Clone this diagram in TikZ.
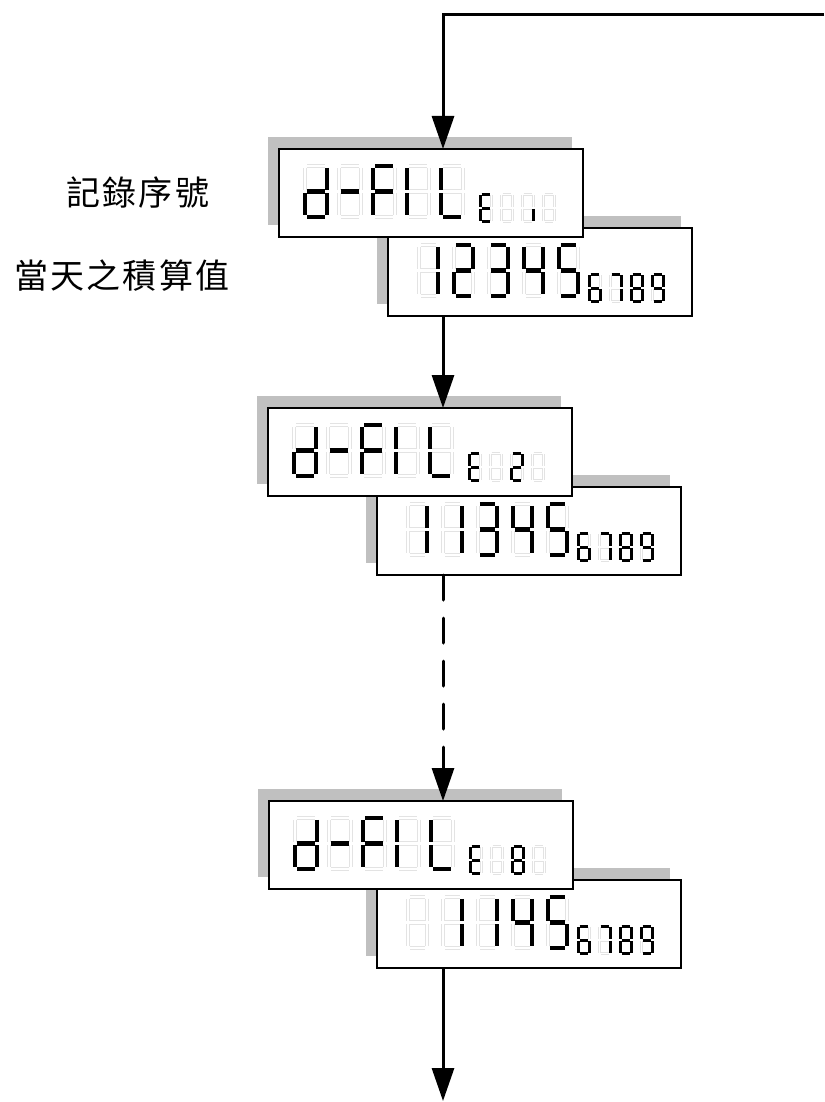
\documentclass[tikz,border=0pt]{standalone}
\usepackage{fontspec}
\newfontfamily\cjkfont[LetterSpace=6]{Noto Sans CJK TC}
\usetikzlibrary{arrows.meta,shadows}
\definecolor{shadowgray}{RGB}{192,192,192}

% one seven-segment cell: x, y (top left), width, height, stroke, lit segments
\newcommand{\segcell}[6]{%
  \begin{scope}[shift={(#1,#2)}, x=#3pt, y=-#4pt]
    \coordinate (sga1) at (0.1,0);    \coordinate (sga2) at (0.9,0);
    \coordinate (sgb1) at (1,0.035);  \coordinate (sgb2) at (1,0.465);
    \coordinate (sgc1) at (1,0.535);  \coordinate (sgc2) at (1,0.965);
    \coordinate (sgd1) at (0.1,1);    \coordinate (sgd2) at (0.9,1);
    \coordinate (sge1) at (0,0.535);  \coordinate (sge2) at (0,0.965);
    \coordinate (sgf1) at (0,0.035);  \coordinate (sgf2) at (0,0.465);
    \coordinate (sgg1) at (0.1,0.5);  \coordinate (sgg2) at (0.9,0.5);
    \foreach \s in {a,b,c,d,e,f,g}
      \draw[ghostseg, line width=0.2*#5pt, double distance=0.6*#5pt] (sg\s1) -- (sg\s2);
    \edef\seglist{#6}%
    \ifx\seglist\empty\else
      \foreach \s in \seglist
        \draw[litseg, line width=#5pt] (sg\s1) -- (sg\s2);
    \fi
  \end{scope}}

\begin{document}
\begin{tikzpicture}[x=1pt, y=-1pt,
    panel/.style={draw, line width=2pt, fill=white, minimum width=304pt, minimum height=88pt,
      inner sep=0pt, outer sep=0pt,
      general shadow={fill=shadowgray, shadow xshift=-11pt, shadow yshift=12pt}},
    ghostseg/.style={draw=black!11, double=white},
    litseg/.style={draw=black},
    flow/.style={line width=3pt, -{Triangle[length=33pt,width=22pt]}},
    sidenote/.style={font=\cjkfont\fontsize{34pt}{38pt}\selectfont, inner sep=0pt}]
\useasboundingbox (0,0) rectangle (824,1102);

% Labels
\node[sidenote] (idxlabel) at (138,193) {記錄序號};
\node[sidenote] (sumlabel) at (122,276) {當天之積算值};

% Panels, first record
\node[panel] (sum1) at (540,272) {};
\begin{scope}[shift={(sum1.north west)}]
  \foreach \lit [count=\i from 0] in {{b,c},{a,b,d,e,g},{a,b,c,d,g},{b,c,f,g},{a,c,d,f,g}}
    {\segcell{31+35*\i}{17}{19}{51}{4.5}{\lit}}
  \foreach \lit [count=\i from 0] in {{a,c,d,e,f,g},{a,b,c},{a,b,c,d,e,f,g},{a,b,c,d,f,g}}
    {\segcell{201.5+21*\i}{46.5}{11}{27}{3}{\lit}}
\end{scope}
\node[panel] (file1) at (431,193) {};
\begin{scope}[shift={(file1.north west)}]
  \foreach \lit [count=\i from 0] in {{b,c,d,e,g},{g},{a,e,f,g},{e,f},{d,e,f}}
    {\segcell{26+34*\i}{17}{22}{51}{4.5}{\lit}}
  \foreach \lit [count=\i from 0] in {{a,d,e,f,g},{},{c},{}}
    {\segcell{201.5+21*\i}{45.5}{11}{27}{3}{\lit}}
\end{scope}

% Panels, second record
\node[panel] (sum2) at (529,531) {};
\begin{scope}[shift={(sum2.north west)}]
  \foreach \lit [count=\i from 0] in {{b,c},{b,c},{a,b,c,d,g},{b,c,f,g},{a,c,d,f,g}}
    {\segcell{31+35*\i}{17}{19}{51}{4.5}{\lit}}
  \foreach \lit [count=\i from 0] in {{a,c,d,e,f,g},{a,b,c},{a,b,c,d,e,f,g},{a,b,c,d,f,g}}
    {\segcell{201.5+21*\i}{46.5}{11}{27}{3}{\lit}}
\end{scope}
\node[panel] (file2) at (420,452) {};
\begin{scope}[shift={(file2.north west)}]
  \foreach \lit [count=\i from 0] in {{b,c,d,e,g},{g},{a,e,f,g},{e,f},{d,e,f}}
    {\segcell{26+34*\i}{17}{22}{51}{4.5}{\lit}}
  \foreach \lit [count=\i from 0] in {{a,d,e,f,g},{},{a,b,d,e,g},{}}
    {\segcell{201.5+21*\i}{45.5}{11}{27}{3}{\lit}}
\end{scope}

% Panels, eighth record
\node[panel] (sum8) at (529,924) {};
\begin{scope}[shift={(sum8.north west)}]
  \foreach \lit [count=\i from 0] in {{},{b,c},{b,c},{b,c,f,g},{a,c,d,f,g}}
    {\segcell{31+35*\i}{17}{19}{51}{4.5}{\lit}}
  \foreach \lit [count=\i from 0] in {{a,c,d,e,f,g},{a,b,c},{a,b,c,d,e,f,g},{a,b,c,d,f,g}}
    {\segcell{201.5+21*\i}{46.5}{11}{27}{3}{\lit}}
\end{scope}
\node[panel] (file8) at (421,845) {};
\begin{scope}[shift={(file8.north west)}]
  \foreach \lit [count=\i from 0] in {{b,c,d,e,g},{g},{a,e,f,g},{e,f},{d,e,f}}
    {\segcell{26+34*\i}{17}{22}{51}{4.5}{\lit}}
  \foreach \lit [count=\i from 0] in {{a,d,e,f,g},{},{a,b,c,d,e,f,g},{}}
    {\segcell{201.5+21*\i}{45.5}{11}{27}{3}{\lit}}
\end{scope}

% Arrows
\coordinate (loopin) at (824,15);
\coordinate (spinetop) at (443,15);
\coordinate (exit) at (443,1101);
\draw[flow] (loopin) -- (spinetop) -- (spinetop |- file1.north);
\draw[flow] (sum1.south -| spinetop) -- (file2.north -| spinetop);
\draw[flow, dash pattern=on 25pt off 18pt, line cap=round] (sum2.south -| spinetop) -- (file8.north -| spinetop);
\draw[flow] (sum8.south -| spinetop) -- (exit);
\end{tikzpicture}
\end{document}
